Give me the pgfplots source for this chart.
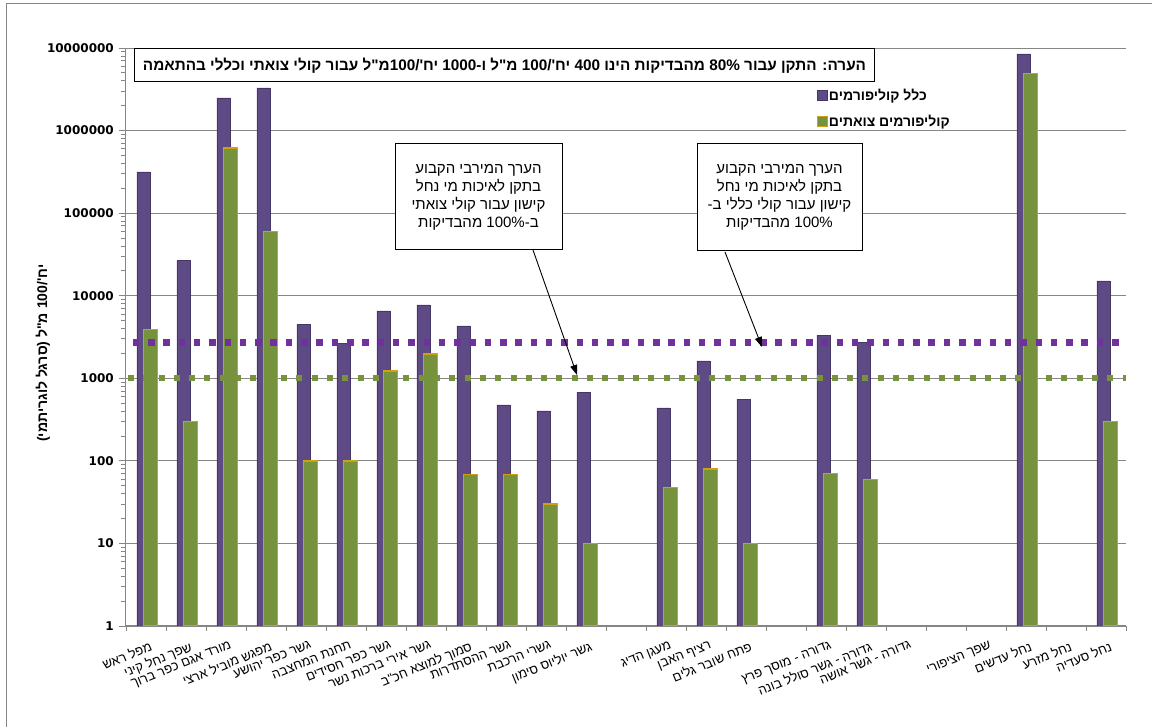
\documentclass[border=0pt]{standalone}
\usepackage{fontspec}
\usepackage{pgfplots}
\pgfplotsset{compat=1.18}
\usetikzlibrary{arrows.meta}
\setmainfont{Liberation Sans}
\newfontfamily\heb[Script=Hebrew]{Liberation Sans}
\newfontfamily\numfont{DejaVu Sans}
\TeXXeTstate=1

\definecolor{totc}{RGB}{94,75,133}
\definecolor{totedge}{RGB}{70,55,102}
\definecolor{fecc}{RGB}{118,146,60}
\definecolor{fecedge}{RGB}{206,160,18}
\definecolor{limtot}{RGB}{112,48,160}
\definecolor{limfec}{RGB}{119,147,60}
\definecolor{gridc}{RGB}{134,134,134}

\pgfplotsset{sq legend/.style={legend image code/.code={%
  \draw[##1,/tikz/.cd,line width=0.8pt] (0pt,-5pt) rectangle (10pt,5pt);}}}

\begin{document}
\begin{tikzpicture}
\useasboundingbox (-126pt,-101pt) rectangle (1026pt,626pt);
\draw[gridc, line width=1pt] (-119pt,-101pt) -- (-119pt,622pt) -- (1026pt,622pt);
\begin{axis}[
  at={(0pt,0pt)}, anchor=south west,
  scale only axis, width=1000pt, height=578pt,
  ymode=log, ymin=1, ymax=1e7,
  xmin=-0.5, xmax=24.5,
  axis x line*=bottom, axis y line*=left,
  axis line style={draw=gridc, line width=1pt},
  tick align=outside,
  major tick length=7pt, minor tick length=5pt,
  tick style={draw=gridc, line width=0.9pt},
  ymajorgrids, major grid style={draw=gridc, line width=0.9pt},
  ytick={1,10,100,1000,10000,100000,1000000,10000000},
  yticklabels={1,10,100,1000,10000,100000,1000000,10000000},
  minor ytick={2,3,4,5,6,7,8,9,20,30,40,50,60,70,80,90,
    200,300,400,500,600,700,800,900,2000,3000,4000,5000,6000,7000,8000,9000,
    20000,30000,40000,50000,60000,70000,80000,90000,
    200000,300000,400000,500000,600000,700000,800000,900000,
    2000000,3000000,4000000,5000000,6000000,7000000,8000000,9000000},
  yticklabel style={font=\numfont\bfseries\fontsize{12}{14}\selectfont, inner sep=0pt, xshift=-5pt},
  xtick={0,...,24},
  xticklabels={
    {\beginR מפל ראש\endR},{\beginR שפך נחל קיני\endR},{\beginR מורד אגם כפר ברוך\endR},
    {\beginR מפגש מוביל ארצי\endR},{\beginR גשר כפר יהושע\endR},{\beginR תחנת המחצבה\endR},
    {\beginR גשר כפר חסידים\endR},{\beginR גשר אירי ברכות נשר\endR},
    {\beginR סמוך למוצא חכ"ב\endR},{\beginR גשר ההסתדרות\endR},{\beginR גשרי הרכבת\endR},
    {\beginR גשר יוליוס סימון\endR},{},{\beginR מעגן הדיג\endR},{\beginR רציף האבן\endR},
    {\beginR פתח שובר גלים\endR},{},{\beginR גדורה - מוסך פרץ\endR},
    {\beginR גדורה - גשר סולל בונה\endR},{\beginR גדורה - גשר אושה\endR},{},
    {\beginR שפך הציפורי\endR},{\beginR נחל עדשים\endR},{\beginR נחל מזרע\endR},
    {\beginR נחל סעדיה\endR}},
  major x tick style={draw=none},
  minor xtick={-0.5,0.5,...,24.5},
  xticklabel style={font=\heb\fontsize{13}{15}\selectfont, rotate=22, anchor=north east, inner sep=0pt, yshift=-8pt, xshift=0pt},
  ylabel={\heb\beginR יח'/100 מ"ל (סרגל לוגריתמי)\endR},
  ylabel style={at={(axis description cs:-0.083,0.472)}, anchor=center, font=\bfseries\fontsize{14}{16}\selectfont},
  legend style={at={(axis description cs:0.691,0.931)}, anchor=north west, draw=none, fill=none,
    font=\heb\bfseries\fontsize{14}{16}\selectfont, row sep=11pt, inner sep=0pt,
    nodes={inner sep=1pt}},
  legend cell align=left,
]
% total coliforms
\addplot[ybar, sq legend, bar width=13pt, bar shift=-2.5pt, fill=totc, draw=totedge, line width=0.6pt]
  coordinates {(0,315000) (1,26600) (2,2480000) (3,3280000) (4,4540) (5,2670)
    (6,6530) (7,7720) (8,4300) (9,475) (10,402) (11,682) (13,437) (14,1620)
    (15,561) (17,3340) (18,2750) (22,8500000) (24,15100)};
\addlegendentry{\beginR כלל קוליפורמים\endR}
% fecal coliforms
\addplot[ybar, sq legend, bar width=14pt, bar shift=4.5pt, fill=fecc, draw=fecedge, line width=1.3pt]
  coordinates {(0,3900) (1,300) (2,615000) (3,59600) (4,100) (5,100)
    (6,1225) (7,1970) (8,69) (9,69) (10,30) (11,10) (13,48) (14,80)
    (15,10) (17,70) (18,60) (22,4940000) (24,300)};
\addlegendentry{\beginR קוליפורמים צואתים\endR}
% maximum values set by the standard (100% of samples)
\addplot[forget plot, limtot, line width=7pt, dash pattern=on 6.5pt off 8.8pt]
  coordinates {(-0.33,2700) (24.5,2700)};
\addplot[forget plot, limfec, line width=6pt, dash pattern=on 6pt off 9.3pt]
  coordinates {(-0.45,1000) (24.5,1000)};
\end{axis}

% note on the 80% standard
\node[draw=black, line width=1pt, fill=white, minimum width=739pt, minimum height=33pt,
  inner sep=0pt, font=\heb\bfseries\fontsize{15.3}{17}\selectfont] at (378.5pt,560.5pt)
  {\beginR הערה: התקן עבור 80\% מהבדיקות הינו 400 יח'/100 מ"ל ו-1000 יח'/100מ"ל עבור קולי צואתי וכללי בהתאמה\endR};

% callouts
\node[draw=black, line width=1pt, fill=white, minimum width=167pt, minimum height=106pt,
  align=center, font=\heb\fontsize{15}{18}\selectfont] at (352.5pt,429pt)
  {\beginR הערך המירבי הקבוע\endR\\\beginR בתקן לאיכות מי נחל\endR\\
   \beginR קישון עבור קולי צואתי\endR\\\beginR ב-100\% מהבדיקות\endR};
\node[draw=black, line width=1pt, fill=white, minimum width=165pt, minimum height=107pt,
  align=center, font=\heb\fontsize{15}{18}\selectfont] at (653.5pt,428.5pt)
  {\beginR הערך המירבי הקבוע\endR\\\beginR בתקן לאיכות מי נחל\endR\\
   \beginR קישון עבור קולי כללי ב-\endR\\\beginR 100\% מהבדיקות\endR};
\draw[-{Triangle[length=10pt,width=7pt]}, line width=0.9pt] (407pt,376pt) -- (451pt,251pt);
\draw[-{Triangle[length=10pt,width=7pt]}, line width=0.9pt] (599pt,374pt) -- (636pt,279pt);
\end{tikzpicture}
\end{document}
